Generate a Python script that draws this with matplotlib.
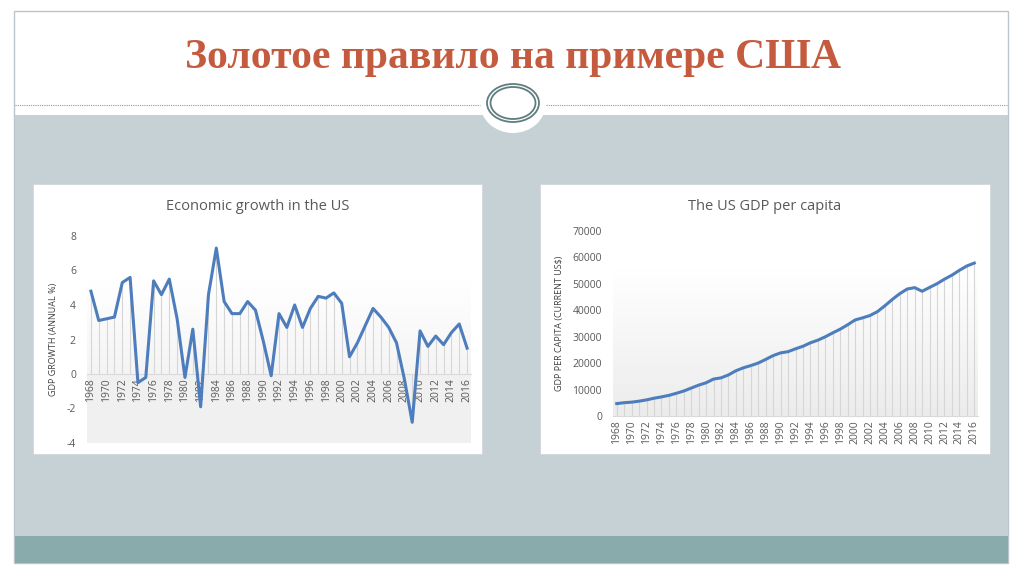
import numpy as np
import matplotlib.pyplot as plt
from matplotlib.patches import Rectangle, Ellipse
from matplotlib.colors import LinearSegmentedColormap, ListedColormap

plt.rcParams['axes.unicode_minus'] = False

# данные
years = list(range(1968, 2017))
gdp_growth = [4.8, 3.1, 3.2, 3.3, 5.3, 5.6, -0.5, -0.2, 5.4, 4.6,
              5.5, 3.2, -0.2, 2.6, -1.9, 4.6, 7.3, 4.2, 3.5, 3.5,
              4.2, 3.7, 1.9, -0.1, 3.5, 2.7, 4.0, 2.7, 3.8, 4.5,
              4.4, 4.7, 4.1, 1.0, 1.8, 2.8, 3.8, 3.3, 2.7, 1.8,
              -0.3, -2.8, 2.5, 1.6, 2.2, 1.7, 2.4, 2.9, 1.5]
gdp_per_capita = [4696, 5032, 5234, 5609, 6094, 6726, 7226, 7801, 8592, 9453,
                  10565, 11674, 12575, 13976, 14434, 15544, 17121, 18237, 19071, 20039,
                  21417, 22857, 23889, 24342, 25419, 26387, 27695, 28691, 29968, 31459,
                  32854, 34515, 36335, 37133, 38023, 39497, 41712, 44115, 46299, 48050,
                  48570, 47195, 48651, 50066, 51784, 53291, 55124, 56763, 57867]
tick_years = years[::2]

slide_title = 'Золотое правило на примере США'
title_left = 'Economic growth in the US'
title_right = 'The US GDP per capita'
ylabel_left = 'GDP GROWTH (ANNUAL %)'
ylabel_right = 'GDP PER CAPITA (CURRENT US$)'

W, H = 1024, 574
fig = plt.figure(figsize=(W / 100, H / 100), dpi=100)
fig.patch.set_facecolor('white')

# фон слайда в пиксельных координатах
bg = fig.add_axes([0, 0, 1, 1])
bg.set_xlim(0, W)
bg.set_ylim(H, 0)
bg.axis('off')
bg.add_patch(Rectangle((14, 11), 994, 552, facecolor='white', edgecolor='#b9c6ca', lw=1))
bg.add_patch(Rectangle((15, 115), 993, 421, facecolor='#c6d1d6', edgecolor='none'))
bg.add_patch(Rectangle((15, 536), 993, 27, facecolor='#8aabab', edgecolor='none'))
bg.plot([15, 480], [105, 105], ls=(0, (1, 1)), color='#8a9a9c', lw=0.8)
bg.plot([546, 1007], [105, 105], ls=(0, (1, 1)), color='#8a9a9c', lw=0.8)
bg.add_patch(Ellipse((513, 103), 66, 60, facecolor='white', edgecolor='none'))
bg.add_patch(Ellipse((513, 103), 52, 38, facecolor='none', edgecolor='#5f7d80', lw=1.3))
bg.add_patch(Ellipse((513, 103), 45, 32, facecolor='none', edgecolor='#5f7d80', lw=1.3))
bg.text(513, 58, slide_title, ha='center', va='center', fontsize=30,
        family='Liberation Serif', weight='bold', color='#c55b3e')

# белые панели диаграмм
bg.add_patch(Rectangle((33, 184), 449, 270, facecolor='white', edgecolor='#d0d8dc', lw=0.6))
bg.add_patch(Rectangle((540, 184), 450, 270, facecolor='white', edgecolor='#d0d8dc', lw=0.6))
bg.text(258, 206, title_left, ha='center', va='center', fontsize=10.5,
        family='Open Sans', color='#595959')
bg.text(765, 206, title_right, ha='center', va='center', fontsize=10.5,
        family='Open Sans', color='#595959')


def px_axes(x0, x1, ytop, ybot):
    return fig.add_axes([x0 / W, (H - ybot) / H, (x1 - x0) / W, (ybot - ytop) / H])


grad = np.linspace(1, 0, 100).reshape(-1, 1)
gray_cmap = LinearSegmentedColormap.from_list('g', ['#ececec', '#ffffff'])


def style(ax, ylabel):
    ax.set_facecolor('none')
    ax.imshow(grad, extent=(0, 1, 0, 0.79), transform=ax.transAxes, aspect='auto',
              cmap=gray_cmap, zorder=0)
    for s in ['top', 'right', 'left']:
        ax.spines[s].set_visible(False)
    ax.spines['bottom'].set_color('#d9d9d9')
    ax.set_xticks(tick_years)
    ax.set_xticklabels([str(y) for y in tick_years])
    ax.tick_params(axis='x', length=0, pad=3, labelsize=7.5, labelcolor='#595959',
                   labelrotation=90)
    ax.tick_params(axis='y', length=0, pad=8, labelsize=7.5, labelcolor='#595959')
    ax.set_ylabel(ylabel, fontsize=6.5, color='#404040', family='Open Sans', labelpad=6)
    for t in ax.get_xticklabels() + ax.get_yticklabels():
        t.set_family('Open Sans')


# левая диаграмма
ax1 = px_axes(87, 471, 236, 443)
ax1.spines['bottom'].set_position(('data', 0))
ax1.imshow(np.zeros((2, 2)), extent=(1967.5, 2016.5, -4, 0), aspect='auto',
           cmap=ListedColormap(['#f0f0f0']), zorder=0.5)
ax1.vlines(years, 0, gdp_growth, color='#d6d6d6', lw=0.8, zorder=1)
ax1.plot(years, gdp_growth, color='#4d7dbc', lw=2.2, zorder=3)
ax1.set_yticks([-4, -2, 0, 2, 4, 6, 8])
style(ax1, ylabel_left)
ax1.set_xlim(1967.5, 2016.5)
ax1.set_ylim(-4, 8)

# правая диаграмма
ax2 = px_axes(613, 978, 231, 416)
ax2.vlines(years, 0, gdp_per_capita, color='#d6d6d6', lw=0.8, zorder=1)
ax2.plot(years, gdp_per_capita, color='#4d7dbc', lw=2.2, zorder=3)
ax2.set_yticks(range(0, 70001, 10000))
style(ax2, ylabel_right)
ax2.set_xlim(1967.5, 2016.5)
ax2.set_ylim(0, 70000)

fig.savefig('out.png', dpi=100)
